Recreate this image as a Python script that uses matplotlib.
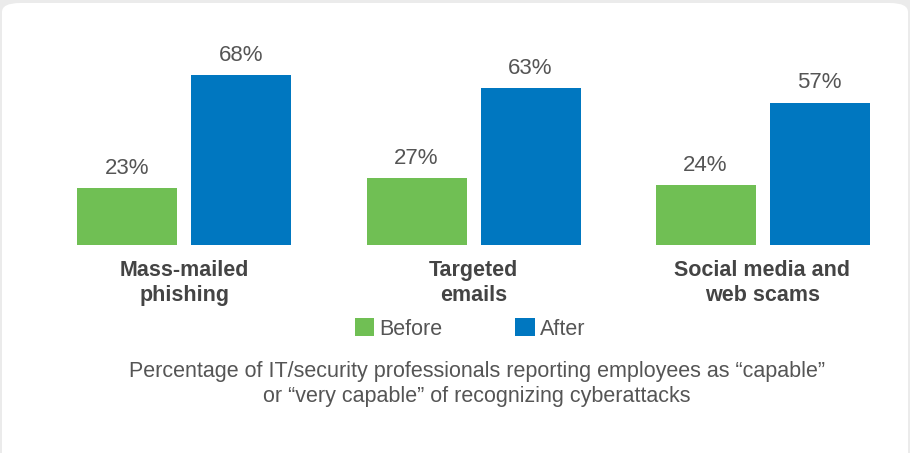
import matplotlib.pyplot as plt
import numpy as np
from matplotlib.patches import FancyBboxPatch, Patch

plt.rcParams['font.family'] = ['Liberation Sans', 'DejaVu Sans']

# datos
categorias = ['Mass-mailed\nphishing', 'Targeted\nemails', 'Social media and\nweb scams']
antes = [23, 27, 24]
despues = [68, 63, 57]
series = ['Before', 'After']
colores = ['#70bf54', '#0077c0']
texto_gris = '#555555'

W, H = 910, 453
fig = plt.figure(figsize=(W / 100, H / 100), dpi=100)
fig.patch.set_facecolor('#ebebeb')

# tarjeta blanca con esquinas redondeadas
card = FancyBboxPatch((2 / W, -20 / H), 906 / W, 470 / H,
                      boxstyle='round,pad=0,rounding_size=0.02',
                      transform=fig.transFigure, facecolor='white',
                      edgecolor='none', zorder=-10)
fig.patches.append(card)

# ejes: 289 px por grupo, base en y=245 px, 2.5 px por %
ax = fig.add_axes([20 / W, 208 / H, 870 / W, 200 / H])
ax.set_facecolor('none')
x = np.arange(len(categorias))
ancho = 100 / 289
off = 57 / 289

b1 = ax.bar(x - off, antes, ancho, color=colores[0], label=series[0])
b2 = ax.bar(x + off, despues, ancho, color=colores[1], label=series[1])

for barras in (b1, b2):
    for r in barras:
        ax.text(r.get_x() + r.get_width() / 2, r.get_height() + 7.8,
                f'{r.get_height():.0f}%', ha='center', va='center',
                fontsize=16, color=texto_gris)

ax.set_xlim((20 - 184.5) / 289, (890 - 184.5) / 289)
ax.set_ylim(0, 80)
ax.set_xticks(x)
ax.set_xticklabels(categorias, fontsize=15.5, fontweight='bold',
                   color='#444444', linespacing=1.3)
ax.tick_params(axis='x', length=0, pad=10.5)
ax.set_yticks([])
for s in ax.spines.values():
    s.set_visible(False)

handles = [Patch(facecolor=c, edgecolor='none') for c in colores]
fig.legend(handles, series, loc='center', bbox_to_anchor=(470 / W, 1 - 329 / H),
           ncol=2, frameon=False, fontsize=15.5, labelcolor=texto_gris,
           handlelength=0.9, handleheight=0.9, handletextpad=0.22,
           columnspacing=3.4)

fig.text(477 / W, 1 - 384 / H,
         'Percentage of IT/security professionals reporting employees as \u201ccapable\u201d\n'
         'or \u201cvery capable\u201d of recognizing cyberattacks',
         ha='center', va='center', fontsize=15.5, color=texto_gris,
         linespacing=1.3)

fig.savefig('out.png', dpi=100, facecolor=fig.get_facecolor())
